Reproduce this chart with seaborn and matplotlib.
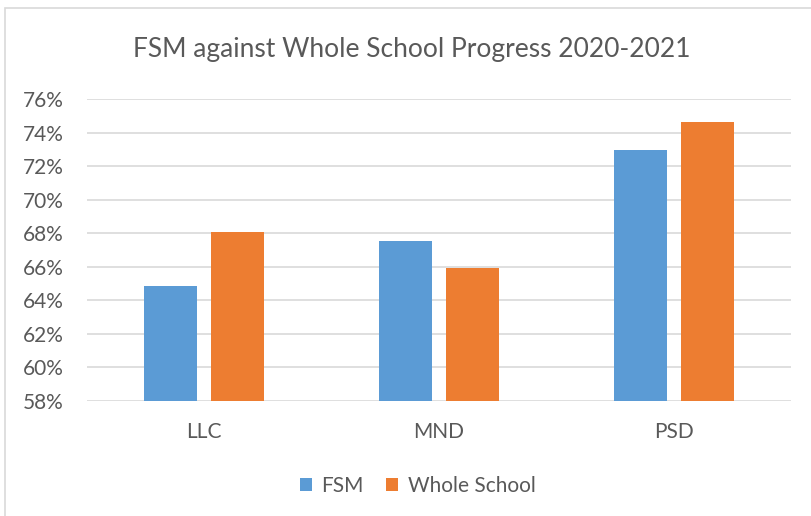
import pandas as pd
import seaborn as sns
import matplotlib.pyplot as plt
from matplotlib.patches import Rectangle
from matplotlib.ticker import FuncFormatter

# --- data ---
subjects = ["LLC", "MND", "PSD"]
fsm = [64.86, 67.54, 72.95]
whole_school = [68.10, 65.93, 74.62]
series_names = ["FSM", "Whole School"]
y_ticks = [58, 60, 62, 64, 66, 68, 70, 72, 74, 76]

df = pd.DataFrame({
    "subject": subjects * 2,
    "group": [series_names[0]] * 3 + [series_names[1]] * 3,
    "value": fsm + whole_school,
})

sns.set_theme(style="white")
plt.rcParams["font.family"] = ["Lato", "DejaVu Sans"]

grey_text = "#595959"
palette = {"FSM": "#5B9BD5", "Whole School": "#ED7D31"}

fig = plt.figure(figsize=(8.11, 5.16), dpi=100)
ax = fig.add_axes([87 / 811, 115 / 516, 704 / 811, 302 / 516])

sns.barplot(data=df, x="subject", y="value", hue="group", palette=palette,
            width=0.571, gap=0.21, ax=ax, saturation=1, legend=True,
            linewidth=0)

ax.set_ylim(58, 76)
ax.set_yticks(y_ticks)
ax.yaxis.set_major_formatter(FuncFormatter(lambda v, p: f"{v:.0f}%"))
ax.yaxis.grid(True, color="#d9d9d9", linewidth=1.2)
ax.set_axisbelow(True)
for s in ax.spines.values():
    s.set_visible(False)
ax.tick_params(axis="both", length=0, colors=grey_text, labelsize=15)
ax.tick_params(axis="y", pad=17)
ax.tick_params(axis="x", pad=15)
ax.set_xlabel("")
ax.set_ylabel("")

fig.text(0.508, 0.905, "FSM against Whole School Progress 2020-2021",
         ha="center", va="center", fontsize=19, color=grey_text)

leg = ax.legend(loc="center", bbox_to_anchor=(0.515, 0.058), bbox_transform=fig.transFigure,
                ncol=2, frameon=False, fontsize=15, handlelength=0.6, handleheight=0.6,
                handletextpad=0.45, columnspacing=1.05)
for t in leg.get_texts():
    t.set_color(grey_text)

# chart frame
fig.patches.append(Rectangle((5 / 811, -0.02), 1.05, 1 - 8 / 516 + 0.02, transform=fig.transFigure,
                             fill=False, edgecolor="#d9d9d9", linewidth=1.2))

plt.savefig("out.png", dpi=100)
